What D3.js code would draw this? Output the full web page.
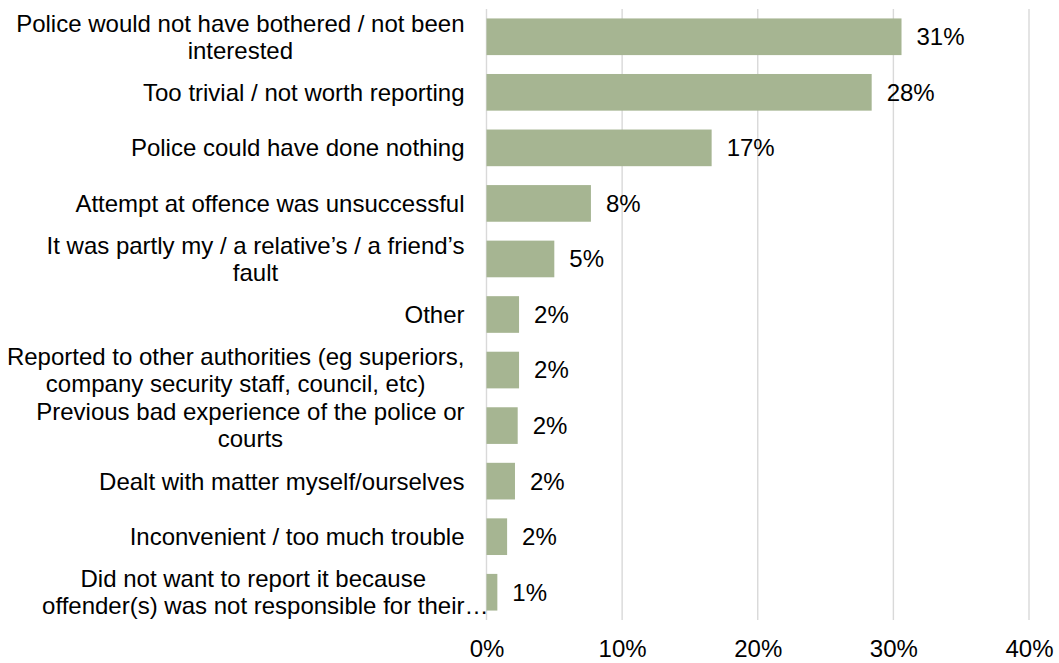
<!DOCTYPE html>
<html>
<head>
<meta charset="utf-8">
<script src="https://cdn.jsdelivr.net/npm/d3@7"></script>
<style>
  html, body { margin: 0; padding: 0; background: #fff; }
  svg { display: block; font-family: "Liberation Sans", Arial, sans-serif; }
</style>
</head>
<body>
<svg id="chart" width="1059" height="663"></svg>
<script>
// Reasons for not reporting to the police (% of incidents)
const categories = [
  ["Police would not have bothered / not been", "interested"],
  ["Too trivial / not worth reporting"],
  ["Police could have done nothing"],
  ["Attempt at offence was unsuccessful"],
  ["It was partly my / a relative\u2019s / a friend\u2019s", "fault"],
  ["Other"],
  ["Reported to other authorities (eg superiors,", "company security staff, council, etc)"],
  ["Previous bad experience of the police or", "courts"],
  ["Dealt with matter myself/ourselves"],
  ["Inconvenient / too much trouble"],
  ["Did not want to report it because", "offender(s) was not responsible for their\u2026"]
];
const values = [30.6, 28.4, 16.6, 7.7, 5.0, 2.4, 2.4, 2.3, 2.1, 1.52, 0.8];
const tickValues = [0, 10, 20, 30, 40];

const svg = d3.select("#chart");
const fontSize = 24;
const plot = { left: 486.5, right: 1029, top: 9, bottom: 620 };

const x = d3.scaleLinear().domain([0, 40]).range([plot.left, plot.right]);
const y = d3.scaleBand()
  .domain(d3.range(categories.length))
  .range([plot.top, plot.bottom])
  .paddingInner(0.34)
  .paddingOuter(0.17);

// vertical gridlines
svg.append("g")
  .selectAll("line")
  .data(tickValues)
  .join("line")
  .attr("x1", d => x(d)).attr("x2", d => x(d))
  .attr("y1", plot.top).attr("y2", plot.bottom)
  .attr("stroke", "#d9d9d9")
  .attr("stroke-width", 1.4);

// x-axis tick labels
const xAxis = d3.axisBottom(x).tickValues(tickValues).tickFormat(d => d + "%").tickSize(0).tickPadding(0);
const ax = svg.append("g").attr("transform", `translate(0,${plot.bottom})`).call(xAxis);
ax.select(".domain").remove();
ax.selectAll("text")
  .attr("y", 29).attr("dy", "0.35em")
  .attr("font-size", fontSize)
  .attr("font-family", "'Liberation Sans', Arial, sans-serif")
  .attr("fill", "#000");

// bars
svg.append("g")
  .selectAll("rect")
  .data(values)
  .join("rect")
  .attr("x", x(0))
  .attr("y", (d, i) => y(i))
  .attr("width", d => x(d) - x(0))
  .attr("height", y.bandwidth())
  .attr("fill", "#a6b592");

// value labels
svg.append("g")
  .selectAll("text")
  .data(values)
  .join("text")
  .attr("x", d => x(d) + 15)
  .attr("y", (d, i) => y(i) + y.bandwidth() / 2)
  .attr("dy", "0.35em")
  .attr("font-size", fontSize)
  .attr("fill", "#000")
  .text(d => Math.round(d) + "%");

// category labels: block right-aligned, lines centred within the block
const labelRight = 464.5;
const lineH = 27;
const lg = svg.append("g");
categories.forEach((lines, i) => {
  const cy = y(i) + y.bandwidth() / 2;
  const texts = lines.map((ln, j) => {
    const core = ln.replace(/\u2026$/, "");
    const t = lg.append("text")
      .attr("font-size", fontSize)
      .attr("fill", "#000")
      .attr("dy", "0.35em")
      .attr("y", cy + (j - (lines.length - 1) / 2) * lineH)
      .text(core);
    const w = t.node().getComputedTextLength();
    t.text(ln);
    return { t, w };
  });
  const maxW = d3.max(texts, d => d.w);
  const cx = labelRight - maxW / 2;
  texts.forEach(({ t, w }) => t.attr("x", cx - w / 2));
});
</script>
</body>
</html>
